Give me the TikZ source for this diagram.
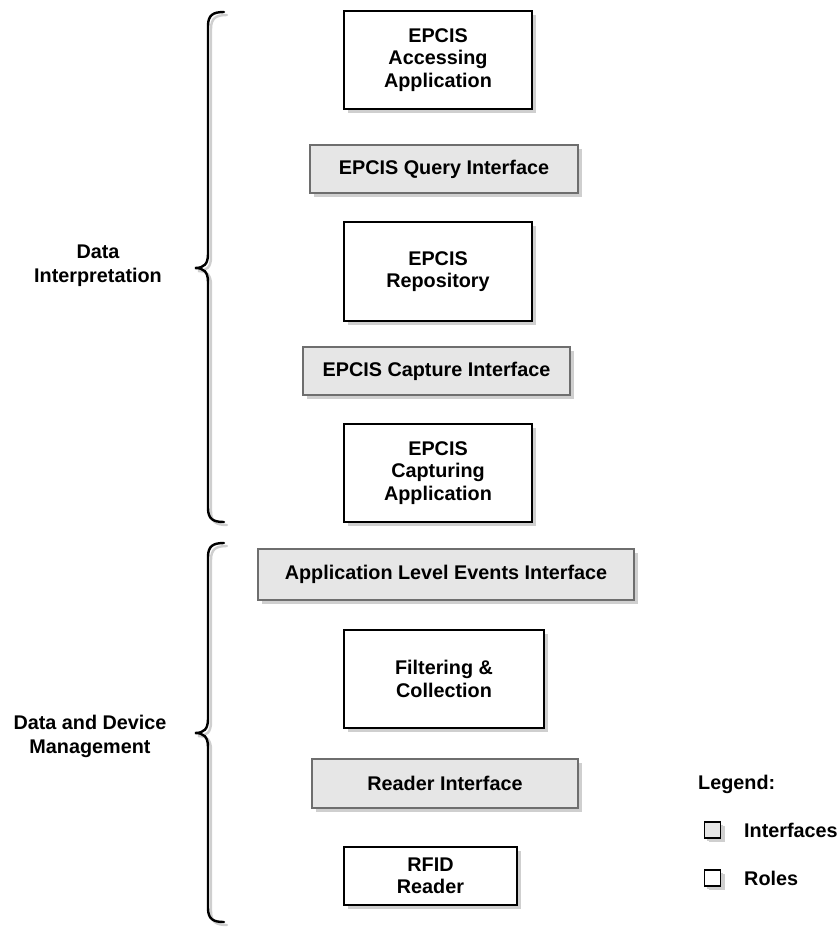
\documentclass[tikz,border=0pt]{standalone}
\usepackage{fontspec}
\setmainfont{Liberation Sans}
\usetikzlibrary{shadows}
\definecolor{ifill}{HTML}{E6E6E6}
\definecolor{iborder}{HTML}{6E6E6E}
\definecolor{shad}{HTML}{CFCFCF}
\tikzset{
  x=1pt, y=-1pt,
  base/.style={inner sep=0pt, outer sep=0pt, line width=2pt, align=center,
    font=\fontsize{19.8}{22.5}\selectfont\bfseries,
    drop shadow={shadow xshift=4pt, shadow yshift=-4pt, fill=shad, opacity=1}},
  role/.style={base, draw=black, fill=white},
  iface/.style={base, draw=iborder, fill=ifill},
  lab/.style={inner sep=0pt, align=center, font=\fontsize{19.8}{24}\selectfont\bfseries},
  bracepath/.style={line width=2.4pt, line cap=round},
}
\begin{document}
\begin{tikzpicture}
\useasboundingbox (0,0) rectangle (837,927);
\node[role, minimum width=188pt, minimum height=98pt] (acc) at (438,60) {EPCIS\\Accessing\\Application};
\node[iface, minimum width=268pt, minimum height=48pt] (query) at (444,169) {EPCIS Query Interface};
\node[role, minimum width=188pt, minimum height=99pt] (repo) at (438,271.5) {EPCIS\\Repository};
\node[iface, minimum width=267pt, minimum height=48pt] (capint) at (436.5,371) {EPCIS Capture Interface};
\node[role, minimum width=188pt, minimum height=98pt] (capapp) at (438,473) {EPCIS\\Capturing\\Application};
\node[iface, minimum width=376pt, minimum height=51pt] (ale) at (446,574.5) {Application Level Events Interface};
\node[role, minimum width=200pt, minimum height=98pt] (filt) at (444,679) {Filtering \&\\Collection};
\node[iface, minimum width=266pt, minimum height=49pt] (reader) at (445,783.5) {Reader Interface};
\node[role, minimum width=173pt, minimum height=58pt] (rfid) at (430.5,876) {RFID\\Reader};

% braces
\foreach \dx/\col in {3/shad, 0/black}{
  \begin{scope}[xshift=\dx pt, yshift=-\dx pt]
  \draw[bracepath, draw=\col] (224,12) .. controls (213,12) and (208,15) .. (208,26) -- (208,254)
    .. controls (208,264) and (204,268) .. (195,268) .. controls (204,268) and (208,272) .. (208,282)
    -- (208,508) .. controls (208,519) and (213,522) .. (224,522);
  \draw[bracepath, draw=\col] (224,543) .. controls (213,543) and (208,546) .. (208,557) -- (208,719)
    .. controls (208,729) and (204,733) .. (195,733) .. controls (204,733) and (208,737) .. (208,747)
    -- (208,908) .. controls (208,919) and (213,922) .. (224,922);
  \end{scope}
}
\node[lab] (di) at (98,266) {Data\\Interpretation};
\node[lab] (ddm) at (90,736) {Data and Device\\Management};

% legend
\node[lab, anchor=west] (leg) at (698,784) {Legend:};
\node[iface, line width=1.8pt, draw=black, minimum size=16pt, drop shadow={shadow xshift=2.5pt, shadow yshift=-2.5pt, fill=shad, opacity=1}] (lgi) at (712.5,830) {};
\node[lab, anchor=west] (lgit) at (744,830) {Interfaces};
\node[role, line width=1.8pt, minimum size=16pt, drop shadow={shadow xshift=2.5pt, shadow yshift=-2.5pt, fill=shad, opacity=1}] (lgr) at (712.5,878) {};
\node[lab, anchor=west] (lgrt) at (744,878) {Roles};
\end{tikzpicture}
\end{document}
